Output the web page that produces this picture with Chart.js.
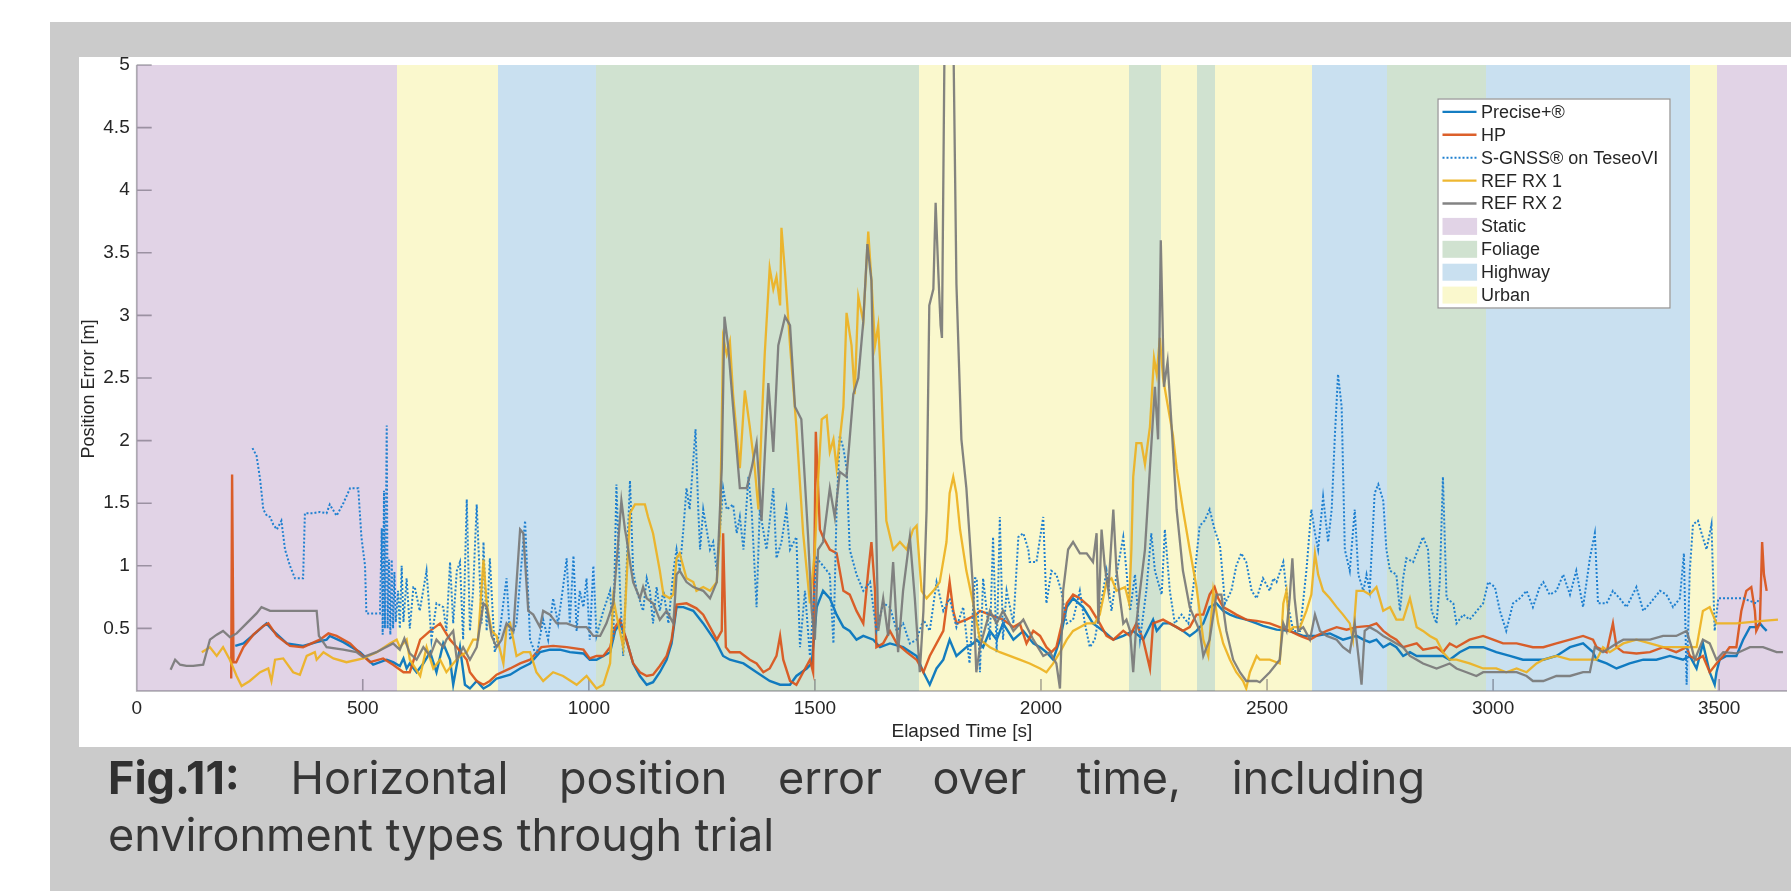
<!DOCTYPE html>
<html>
<head>
<meta charset="utf-8">
<title>Horizontal position error over time</title>
<script src="https://cdn.jsdelivr.net/npm/chart.js@4/dist/chart.umd.min.js"></script>
<style>
  html, body { margin: 0; padding: 0; background: #ffffff; }
  body { width: 1791px; height: 891px; position: relative; overflow: hidden; }
  #frame { position: absolute; left: 50px; top: 22px; width: 1741px; height: 869px; background: #cbcbcb; }
  #panel { position: absolute; left: 79px; top: 57px; width: 1712px; height: 690px; background: #ffffff; }
  #chart { position: absolute; left: 0; top: 0; }
  .caption { position: absolute; left: 108px; font-family: Inter, 'Noto Sans', sans-serif; font-size: 45px;
             line-height: 57px; color: #363636; z-index: 2; }
  #cap1 { top: 749px; width: 1317px; text-align: justify; text-align-last: justify; }
  #cap2 { top: 806px; }
  .caption b { font-weight: 700; color: #303030; }
</style>
</head>
<body>
<div id="frame"></div>
<div id="panel"></div>
<canvas id="chart" width="1791" height="891"></canvas>
<div class="caption" id="cap1"><b>Fig.11:</b> Horizontal position error over time, including</div>
<div class="caption" id="cap2">environment types through trial</div>
<script>
// ---- axes ----
const xTicks = [0, 500, 1000, 1500, 2000, 2500, 3000, 3500];
const yTicks = [0.5, 1, 1.5, 2, 2.5, 3, 3.5, 4, 4.5, 5];
const xMax = 3650;
const yMax = 5;
const yTitle = 'Position Error [m]';

// ---- environment segments (s) ----
const bandStart = [0, 575, 800, 1015, 1730, 2195, 2265, 2345, 2385, 2600, 2765, 2985, 3435, 3495];
const bandEnd   = [575, 800, 1015, 1730, 2195, 2265, 2345, 2385, 2600, 2765, 2985, 3435, 3495, 3650];
const bandType  = ['Static', 'Urban', 'Highway', 'Foliage', 'Urban', 'Foliage', 'Urban', 'Foliage',
                   'Urban', 'Highway', 'Foliage', 'Highway', 'Urban', 'Static'];
const envNames  = ['Static', 'Foliage', 'Highway', 'Urban'];
const envColors = { Static: '#e1d3e6', Foliage: '#d0e2d0', Highway: '#c9e0f0', Urban: '#faf8cd' };

// ---- series: time [s] and horizontal error [m] ----
const seriesNames = ['Precise+®', 'HP', 'S-GNSS® on TeseoVI', 'REF RX 1', 'REF RX 2'];

const precisePlusTime = [218,236,265,287,302,332,368,398,420,427,457,494,523,553,567,582,590,597,604,619,634,649,663,678,693,700,715,726,737,752,767,781,796,826,848,870,892,914,936,958,988,1002,1017,1032,1047,1058,1069,1083,1098,1113,1128,1142,1157,1172,1183,1194,1209,1231,1253,1283,1297,1312,1342,1371,1400,1423,1445,1459,1482,1493,1504,1518,1533,1548,1563,1577,1592,1607,1629,1644,1666,1695,1725,1740,1754,1769,1784,1798,1813,1835,1850,1858,1872,1887,1902,1916,1939,1961,1983,1998,2012,2027,2042,2057,2071,2093,2115,2138,2160,2182,2204,2226,2248,2256,2270,2285,2300,2314,2329,2344,2359,2373,2388,2403,2418,2432,2454,2477,2491,2521,2550,2580,2609,2639,2668,2698,2713,2727,2742,2757,2772,2786,2801,2816,2831,2860,2889,2904,2926,2948,2978,3007,3037,3066,3096,3111,3140,3170,3199,3221,3229,3251,3273,3302,3332,3361,3391,3420,3435,3450,3464,3479,3490,3494,3501,3516,3538,3553,3568,3582,3590,3597,3605];
const precisePlusErr  = [0.36,0.38,0.47,0.54,0.48,0.38,0.36,0.39,0.41,0.44,0.39,0.31,0.21,0.25,0.23,0.20,0.26,0.18,0.22,0.15,0.22,0.31,0.15,0.38,0.25,0.05,0.35,0.05,0.02,0.08,0.02,0.05,0.10,0.13,0.18,0.22,0.31,0.33,0.33,0.31,0.30,0.25,0.25,0.28,0.31,0.48,0.54,0.41,0.22,0.12,0.05,0.07,0.15,0.25,0.38,0.67,0.67,0.64,0.54,0.38,0.28,0.25,0.22,0.15,0.08,0.05,0.05,0.12,0.18,0.22,0.67,0.80,0.74,0.61,0.51,0.48,0.41,0.44,0.41,0.35,0.38,0.35,0.28,0.15,0.05,0.18,0.25,0.41,0.28,0.35,0.38,0.41,0.35,0.48,0.41,0.54,0.41,0.48,0.38,0.35,0.31,0.25,0.41,0.67,0.74,0.67,0.54,0.48,0.41,0.44,0.48,0.41,0.57,0.48,0.54,0.54,0.51,0.48,0.44,0.48,0.54,0.67,0.70,0.64,0.61,0.59,0.57,0.54,0.52,0.49,0.48,0.44,0.44,0.46,0.41,0.44,0.41,0.39,0.41,0.35,0.38,0.35,0.28,0.31,0.28,0.28,0.28,0.25,0.31,0.35,0.35,0.31,0.28,0.25,0.25,0.25,0.28,0.35,0.38,0.31,0.25,0.22,0.18,0.22,0.25,0.25,0.28,0.25,0.28,0.18,0.38,0.15,0.05,0.15,0.25,0.28,0.28,0.41,0.51,0.51,0.54,0.51,0.48];

const hpTime = [209,211,214,220,236,258,280,291,310,339,368,405,424,442,472,494,516,545,567,590,604,627,649,671,693,708,730,737,752,767,781,796,826,848,870,895,921,951,988,1002,1017,1032,1047,1058,1069,1083,1098,1113,1128,1142,1157,1172,1183,1194,1216,1238,1253,1268,1283,1294,1297,1303,1312,1334,1356,1371,1386,1400,1415,1423,1430,1445,1459,1474,1489,1496,1502,1511,1518,1533,1548,1563,1577,1592,1607,1618,1625,1633,1636,1651,1666,1681,1703,1725,1740,1754,1784,1798,1806,1813,1835,1857,1865,1887,1916,1939,1953,1968,1983,1998,2012,2023,2034,2057,2071,2086,2108,2130,2145,2160,2182,2197,2211,2226,2241,2248,2270,2285,2300,2314,2329,2344,2359,2373,2384,2392,2403,2418,2432,2454,2477,2506,2528,2550,2573,2595,2609,2632,2654,2676,2698,2727,2742,2757,2772,2786,2801,2831,2845,2875,2889,2904,2919,2948,2978,3000,3022,3052,3088,3111,3140,3170,3199,3221,3229,3251,3265,3273,3288,3317,3347,3376,3405,3428,3435,3450,3464,3479,3494,3509,3523,3538,3549,3560,3571,3579,3582,3590,3595,3599,3605];
const hpErr  = [0.10,1.73,0.23,0.23,0.35,0.45,0.52,0.54,0.44,0.36,0.35,0.41,0.46,0.44,0.38,0.30,0.23,0.26,0.21,0.15,0.15,0.41,0.48,0.54,0.41,0.35,0.25,0.15,0.08,0.05,0.08,0.13,0.18,0.22,0.25,0.35,0.36,0.35,0.33,0.26,0.28,0.28,0.35,0.51,0.57,0.41,0.22,0.15,0.12,0.13,0.20,0.28,0.41,0.69,0.70,0.66,0.61,0.51,0.41,0.48,1.26,0.35,0.31,0.31,0.25,0.22,0.15,0.18,0.28,0.44,0.25,0.08,0.05,0.15,0.25,0.15,2.07,1.29,1.23,1.13,1.10,0.80,0.77,0.64,0.54,0.96,1.19,0.80,0.35,0.38,0.48,0.38,0.31,0.25,0.15,0.28,0.48,0.87,0.64,0.54,0.57,0.61,0.64,0.61,0.57,0.51,0.54,0.38,0.48,0.44,0.35,0.31,0.35,0.70,0.77,0.74,0.67,0.54,0.44,0.41,0.48,0.44,0.54,0.41,0.18,0.54,0.57,0.54,0.51,0.48,0.51,0.61,0.61,0.77,0.83,0.74,0.67,0.64,0.61,0.57,0.56,0.54,0.51,0.48,0.44,0.41,0.44,0.48,0.51,0.49,0.51,0.52,0.54,0.48,0.44,0.41,0.35,0.38,0.33,0.35,0.31,0.38,0.35,0.41,0.44,0.41,0.38,0.38,0.35,0.35,0.38,0.41,0.44,0.41,0.35,0.31,0.54,0.35,0.31,0.30,0.31,0.35,0.31,0.35,0.28,0.25,0.28,0.15,0.22,0.28,0.35,0.35,0.64,0.80,0.83,0.64,0.48,0.54,1.19,0.93,0.80];

const sgnssTime = [256,265,273,280,288,295,302,310,320,328,339,350,368,372,390,405,420,427,442,457,472,490,497,505,508,538,542,544,547,549,553,555,558,561,564,567,570,573,578,582,586,590,597,604,612,615,626,641,652,663,678,685,693,700,708,715,722,730,737,744,752,763,767,774,781,792,803,818,826,840,859,870,884,899,910,921,932,943,951,958,966,973,980,988,995,1002,1010,1017,1032,1047,1054,1061,1069,1076,1091,1098,1106,1120,1128,1135,1142,1150,1157,1165,1176,1187,1194,1201,1209,1216,1223,1236,1242,1246,1253,1268,1275,1283,1290,1297,1305,1319,1327,1334,1342,1353,1360,1371,1378,1393,1408,1415,1426,1437,1445,1459,1467,1478,1489,1504,1518,1533,1541,1548,1555,1563,1570,1577,1592,1607,1622,1636,1651,1666,1681,1695,1710,1725,1740,1754,1769,1784,1798,1813,1828,1842,1854,1858,1865,1872,1887,1894,1902,1909,1916,1924,1939,1950,1961,1972,1975,1990,2005,2012,2023,2034,2045,2057,2071,2086,2097,2108,2119,2130,2145,2156,2167,2182,2189,2197,2208,2219,2233,2244,2252,2259,2267,2274,2285,2296,2311,2326,2337,2351,2362,2373,2384,2396,2407,2421,2432,2443,2454,2466,2477,2491,2506,2514,2521,2536,2547,2558,2573,2587,2598,2606,2613,2624,2635,2643,2650,2657,2665,2672,2683,2694,2702,2713,2720,2727,2738,2746,2757,2764,2772,2786,2794,2801,2808,2823,2834,2845,2856,2864,2875,2882,2889,2897,2912,2919,2934,2948,2971,2978,2989,3004,3015,3029,3044,3059,3074,3088,3103,3111,3125,3140,3155,3170,3184,3199,3214,3225,3232,3251,3265,3280,3295,3317,3332,3347,3369,3383,3398,3413,3422,3428,3435,3442,3453,3461,3472,3483,3490,3498,3523,3553,3582,3590];
const sgnssErr  = [1.94,1.88,1.69,1.45,1.40,1.39,1.33,1.29,1.36,1.13,1.00,0.90,0.90,1.42,1.42,1.43,1.42,1.49,1.40,1.50,1.62,1.62,1.23,1.00,0.62,0.62,1.30,0.45,1.60,0.50,2.12,0.50,1.05,0.45,1.05,0.50,0.95,0.55,0.80,0.50,1.00,0.55,0.90,0.50,0.83,0.83,0.64,0.96,0.41,0.70,0.67,0.48,1.03,0.54,0.96,1.03,0.41,1.53,0.48,0.80,1.49,0.54,1.19,0.48,1.06,0.31,0.48,0.90,0.41,0.54,1.36,0.41,0.28,0.57,0.41,0.74,0.54,0.83,1.06,0.54,1.08,0.48,0.80,0.67,0.90,0.41,1.00,0.44,0.64,0.80,0.41,1.65,0.80,0.28,1.68,0.96,0.80,0.64,0.90,0.80,0.54,0.83,0.64,0.80,0.54,0.96,1.13,0.96,1.29,1.62,1.45,2.09,1.45,1.13,1.45,1.13,1.19,0.96,1.29,1.62,1.45,1.49,1.26,1.39,1.13,1.71,1.45,0.67,1.45,1.13,1.62,1.06,1.19,1.45,1.13,1.23,0.35,0.80,0.28,1.06,1.00,0.93,0.38,1.45,2.04,1.94,1.78,1.13,0.93,0.80,0.87,0.48,0.70,0.67,0.48,0.54,0.38,0.41,0.57,0.48,0.87,0.64,0.74,0.51,0.67,0.22,0.90,0.90,0.15,0.90,0.41,1.23,0.31,1.39,0.41,0.80,0.54,1.23,1.26,1.13,1.03,1.03,1.39,0.70,0.96,0.93,0.80,0.54,0.57,0.80,0.54,0.35,0.41,0.64,0.96,0.64,0.93,1.23,0.96,0.64,0.93,0.41,0.80,1.26,0.96,0.87,0.77,1.29,0.80,0.54,0.61,0.54,0.83,1.32,1.36,1.45,1.29,1.16,0.70,0.80,1.00,1.10,1.03,0.80,0.74,0.90,0.80,0.90,0.87,1.03,0.67,0.48,0.48,0.96,1.45,1.26,1.13,1.55,1.19,1.45,2.04,2.53,2.27,1.13,0.96,1.45,0.93,0.80,0.93,0.80,1.58,1.65,1.52,1.13,0.96,0.93,0.64,0.90,1.06,1.03,1.13,1.23,1.13,0.64,0.54,0.87,1.71,0.74,0.70,0.54,0.61,0.57,0.67,0.70,0.87,0.83,0.64,0.48,0.70,0.74,0.80,0.67,0.83,0.87,0.77,0.80,0.93,0.77,0.96,0.67,1.06,1.26,0.70,0.70,0.80,0.74,0.67,0.83,0.64,0.70,0.80,0.77,0.67,0.74,1.10,0.05,0.96,1.33,1.36,1.26,1.13,1.33,0.48,0.74,0.74,0.74,0.70,0.74];

const refRx1Time = [144,162,177,191,206,221,232,250,273,291,298,306,324,346,361,376,394,398,413,435,464,501,531,560,575,582,597,604,627,641,656,671,685,700,715,730,744,755,767,774,785,796,811,818,826,840,855,870,884,899,921,943,973,995,1017,1032,1047,1054,1061,1076,1091,1102,1124,1131,1142,1157,1165,1179,1187,1194,1201,1216,1231,1238,1253,1268,1283,1290,1297,1305,1312,1319,1334,1345,1356,1367,1375,1382,1389,1400,1408,1415,1423,1426,1434,1445,1459,1474,1489,1500,1507,1515,1526,1533,1541,1548,1563,1570,1581,1588,1596,1607,1618,1625,1633,1640,1647,1658,1673,1688,1703,1717,1725,1736,1747,1762,1776,1791,1798,1806,1813,1821,1835,1850,1865,1887,1909,1931,1953,1975,1998,2012,2027,2042,2057,2071,2086,2101,2119,2130,2145,2156,2167,2186,2195,2200,2204,2211,2222,2230,2241,2250,2256,2263,2270,2278,2292,2300,2314,2329,2344,2359,2370,2381,2392,2403,2418,2432,2447,2454,2462,2477,2484,2506,2528,2536,2543,2550,2558,2573,2587,2598,2606,2613,2624,2639,2654,2668,2683,2690,2698,2713,2727,2742,2757,2772,2786,2801,2816,2831,2845,2860,2875,2889,2904,2919,2948,2978,3007,3029,3052,3074,3096,3111,3140,3170,3229,3243,3258,3288,3317,3347,3376,3450,3464,3479,3494,3538,3597,3630];
const refRx1Err  = [0.31,0.35,0.28,0.35,0.25,0.12,0.04,0.08,0.15,0.18,0.08,0.25,0.26,0.15,0.13,0.28,0.31,0.25,0.31,0.26,0.23,0.26,0.31,0.38,0.41,0.35,0.41,0.25,0.12,0.35,0.18,0.25,0.15,0.22,0.28,0.31,0.41,0.41,1.05,0.70,0.48,0.44,0.22,0.51,0.54,0.28,0.31,0.31,0.15,0.08,0.15,0.12,0.05,0.12,0.02,0.05,0.22,0.74,0.61,0.35,1.42,1.49,1.49,1.39,1.26,0.96,0.77,0.74,0.77,1.06,1.10,0.90,0.87,0.80,0.83,0.80,0.87,1.26,2.82,2.69,2.79,2.37,1.78,2.40,2.11,1.78,1.45,2.11,2.69,3.38,3.21,3.31,3.08,3.70,3.34,2.76,2.11,1.26,0.70,1.13,1.68,2.17,2.20,1.91,2.01,1.78,2.27,3.02,2.76,2.37,3.15,2.95,3.67,3.28,2.76,2.92,2.43,1.36,1.13,1.19,1.13,1.29,1.32,0.80,0.74,0.80,0.87,1.19,1.58,1.71,1.58,1.29,0.96,0.70,0.41,0.35,0.31,0.28,0.25,0.22,0.18,0.15,0.22,0.31,0.41,0.48,0.51,0.54,0.54,0.61,0.87,0.90,0.80,0.83,0.70,1.13,1.71,1.98,1.98,1.81,2.11,2.66,2.53,2.82,2.50,2.33,2.04,1.78,1.45,1.13,0.83,0.41,0.28,0.80,0.54,0.38,0.25,0.15,0.08,0.02,0.15,0.28,0.25,0.25,0.22,0.70,0.80,0.48,0.51,0.51,0.64,0.77,1.10,0.93,0.80,0.74,0.67,0.61,0.54,0.41,0.80,0.80,0.77,0.83,0.64,0.67,0.57,0.57,0.74,0.51,0.48,0.44,0.41,0.31,0.25,0.25,0.22,0.18,0.18,0.15,0.18,0.15,0.22,0.25,0.28,0.25,0.25,0.35,0.31,0.38,0.41,0.38,0.35,0.35,0.64,0.67,0.54,0.54,0.56,0.57];

const refRx2Time = [75,85,96,110,125,147,162,177,191,206,221,243,265,276,295,398,403,420,457,486,501,530,567,582,592,604,619,634,649,663,678,685,700,708,722,737,752,767,774,785,796,807,818,833,848,855,866,877,892,899,914,929,951,973,995,1010,1025,1039,1054,1065,1072,1080,1083,1091,1098,1113,1120,1128,1142,1157,1172,1187,1194,1201,1216,1231,1253,1268,1283,1294,1300,1308,1319,1334,1349,1360,1371,1382,1397,1408,1419,1434,1445,1456,1470,1485,1493,1500,1507,1518,1533,1544,1555,1570,1585,1596,1607,1616,1625,1633,1640,1651,1662,1673,1684,1695,1710,1721,1732,1740,1747,1753,1762,1767,1773,1778,1781,1787,1795,1806,1813,1824,1835,1850,1857,1865,1887,1902,1916,1939,1961,1983,2005,2020,2034,2042,2049,2060,2071,2086,2101,2115,2123,2127,2134,2141,2149,2160,2167,2182,2189,2197,2204,2211,2219,2230,2241,2252,2259,2265,2272,2280,2289,2300,2314,2329,2344,2351,2359,2373,2388,2399,2410,2425,2440,2454,2477,2484,2506,2528,2536,2543,2550,2556,2561,2569,2580,2595,2606,2617,2632,2654,2668,2683,2694,2702,2709,2716,2727,2742,2757,2772,2786,2801,2816,2831,2845,2875,2904,2919,2941,2963,2978,3022,3052,3074,3088,3111,3140,3170,3199,3214,3225,3243,3273,3288,3347,3376,3405,3428,3439,3446,3464,3479,3494,3509,3538,3568,3597,3627,3641];
const refRx2Err  = [0.17,0.25,0.21,0.20,0.20,0.21,0.41,0.45,0.48,0.43,0.46,0.54,0.62,0.67,0.64,0.64,0.44,0.35,0.33,0.31,0.27,0.31,0.38,0.33,0.42,0.30,0.25,0.35,0.28,0.41,0.35,0.41,0.48,0.25,0.35,0.25,0.35,0.70,0.67,0.44,0.35,0.41,0.54,0.48,1.29,1.26,0.64,0.61,0.51,0.64,0.61,0.54,0.54,0.51,0.51,0.44,0.44,0.54,0.70,1.19,1.52,1.29,1.23,1.03,0.87,0.74,0.83,0.74,0.70,0.57,0.64,0.54,0.93,0.96,0.87,0.83,0.80,0.74,0.87,1.78,2.99,2.76,2.27,1.62,1.62,1.78,1.98,1.36,2.46,1.91,2.76,2.99,2.92,2.27,2.17,1.23,0.64,0.41,1.13,1.19,1.62,1.39,1.75,1.71,2.37,2.50,2.95,3.57,3.28,1.78,0.48,0.74,0.44,1.03,0.31,0.80,1.23,0.74,0.15,0.64,1.45,3.08,3.21,3.90,3.34,2.92,2.82,5.30,5.60,5.30,3.25,2.01,1.62,0.80,0.15,0.35,0.64,0.54,0.64,0.48,0.57,0.41,0.28,0.31,0.22,0.02,0.80,1.13,1.19,1.10,1.10,1.03,1.26,0.54,1.29,1.00,0.80,1.45,0.96,0.54,0.57,0.48,0.15,0.54,0.80,1.13,1.78,2.43,2.01,3.60,2.43,2.63,2.11,1.45,0.96,0.67,0.54,0.48,0.28,0.41,0.77,0.77,0.48,0.25,0.15,0.08,0.08,0.07,0.15,0.25,0.54,0.48,0.74,1.06,0.74,0.48,0.51,0.41,0.61,0.48,0.44,0.41,0.35,0.31,0.54,0.28,0.05,0.48,0.51,0.48,0.44,0.41,0.38,0.35,0.28,0.25,0.22,0.18,0.22,0.18,0.15,0.12,0.15,0.15,0.15,0.12,0.08,0.08,0.12,0.12,0.15,0.15,0.35,0.31,0.38,0.41,0.41,0.44,0.44,0.48,0.35,0.25,0.41,0.38,0.25,0.31,0.30,0.35,0.35,0.31,0.31];

// ---- styling ----
const seriesColors = ['rgba(0,114,189,0.92)', 'rgba(217,83,25,0.92)', '#1f80d0', 'rgba(237,177,32,0.92)', 'rgba(120,120,120,0.92)'];
const seriesDash   = [[], [], [2, 2], [], []];
const seriesWidth  = [2.4, 2.4, 2, 2.3, 2.3];
const textColor = '#262626';
const fontFamily = "'Liberation Sans', Arial, Helvetica, sans-serif";

function toPoints(t, v) { return t.map((x, i) => ({ x: x, y: v[i] })); }
const seriesData = [
  toPoints(precisePlusTime, precisePlusErr),
  toPoints(hpTime, hpErr),
  toPoints(sgnssTime, sgnssErr),
  toPoints(refRx1Time, refRx1Err),
  toPoints(refRx2Time, refRx2Err)
];

// background environment bands, axis lines and inward tick marks
const envBands = {
  id: 'envBands',
  beforeDatasetsDraw(chart) {
    const { ctx, chartArea: a, scales: { x, y } } = chart;
    ctx.save();
    ctx.beginPath();
    ctx.rect(a.left, a.top, a.right - a.left, a.bottom - a.top);
    ctx.clip();
    bandStart.forEach((s, i) => {
      const x0 = Math.round(x.getPixelForValue(s));
      const x1 = Math.round(x.getPixelForValue(bandEnd[i]));
      ctx.fillStyle = envColors[bandType[i]];
      ctx.fillRect(x0, a.top, x1 - x0, a.bottom - a.top);
    });
    ctx.restore();

    ctx.save();
    ctx.strokeStyle = 'rgba(60,55,70,0.42)';
    ctx.lineWidth = 1.6;
    ctx.beginPath();
    ctx.moveTo(a.left, a.top);
    ctx.lineTo(a.left, a.bottom);
    ctx.lineTo(a.right, a.bottom);
    yTicks.forEach(v => {
      const py = y.getPixelForValue(v);
      ctx.moveTo(a.left, py);
      ctx.lineTo(a.left + 15, py);
    });
    xTicks.forEach(v => {
      const px = x.getPixelForValue(v);
      ctx.moveTo(px, a.bottom);
      ctx.lineTo(px, a.bottom - 12);
    });
    ctx.stroke();
    ctx.restore();
  }
};

// rotated y-axis title, set slightly below the middle of the axis
const yAxisTitle = {
  id: 'yAxisTitle',
  afterDraw(chart) {
    const { ctx, chartArea: a } = chart;
    ctx.save();
    ctx.translate(89, (a.top + a.bottom) / 2 + 11);
    ctx.rotate(-Math.PI / 2);
    ctx.font = '18px ' + fontFamily;
    ctx.fillStyle = textColor;
    ctx.textAlign = 'center';
    ctx.textBaseline = 'middle';
    ctx.fillText(yTitle, 0, 0);
    ctx.restore();
  }
};

// legend box in the upper right of the plot
const envLegend = {
  id: 'envLegend',
  afterDatasetsDraw(chart) {
    const { ctx, chartArea: a } = chart;
    const boxW = 233, boxH = 210;
    const bx = a.right - 116.5 - boxW, by = a.top + 33.5;
    const rowH = 22.9, firstRow = by + 13.4;
    ctx.save();
    ctx.fillStyle = '#ffffff';
    ctx.fillRect(bx, by, boxW, boxH);
    ctx.strokeStyle = '#8e8e8e';
    ctx.lineWidth = 1.2;
    ctx.strokeRect(bx + 0.5, by + 0.5, boxW - 1, boxH - 1);
    ctx.font = '18px ' + fontFamily;
    ctx.textBaseline = 'middle';
    ctx.textAlign = 'left';
    const sx0 = bx + 5, sx1 = bx + 39, tx = bx + 43.5;
    seriesNames.forEach((name, i) => {
      const cy = firstRow + i * rowH;
      ctx.strokeStyle = seriesColors[i];
      ctx.lineWidth = seriesWidth[i];
      ctx.setLineDash(seriesDash[i]);
      ctx.beginPath();
      ctx.moveTo(sx0, cy);
      ctx.lineTo(sx1, cy);
      ctx.stroke();
      ctx.setLineDash([]);
      ctx.fillStyle = textColor;
      ctx.fillText(name, tx, cy + 1);
    });
    envNames.forEach((name, j) => {
      const cy = firstRow + (seriesNames.length + j) * rowH;
      ctx.fillStyle = envColors[name];
      ctx.fillRect(sx0, cy - 8.5, sx1 - sx0 + 0.6, 17);
      ctx.fillStyle = textColor;
      ctx.fillText(name, tx, cy + 1);
    });
    ctx.restore();
  }
};

Chart.defaults.font.family = fontFamily;
Chart.defaults.color = textColor;

new Chart(document.getElementById('chart'), {
  type: 'line',
  data: {
    datasets: seriesNames.map((name, i) => ({
      label: name,
      data: seriesData[i],
      borderColor: seriesColors[i],
      borderWidth: seriesWidth[i],
      borderDash: seriesDash[i],
      pointRadius: 0,
      tension: 0,
      fill: false,
      order: seriesNames.length - i
    }))
  },
  options: {
    responsive: false,
    animation: false,
    devicePixelRatio: 1,
    events: [],
    layout: { padding: { top: 65, right: 4, bottom: 144, left: 0 } },
    plugins: { legend: { display: false }, tooltip: { enabled: false } },
    scales: {
      x: {
        type: 'linear',
        min: 0,
        max: xMax,
        afterFit(scale) { scale.height = 56; },
        afterBuildTicks(scale) { scale.ticks = xTicks.map(v => ({ value: v })); },
        grid: { display: false, drawTicks: false },
        border: { display: false },
        ticks: { autoSkip: false, maxRotation: 0, padding: 6, color: textColor, font: { size: 19 },
                 callback: v => String(v) },
        title: { display: true, text: 'Elapsed Time [s]', color: textColor, font: { size: 19 },
                 padding: { top: 0, bottom: 4 } }
      },
      y: {
        type: 'linear',
        min: 0,
        max: yMax,
        afterFit(scale) { scale.width = 136.7; },
        afterBuildTicks(scale) { scale.ticks = yTicks.map(v => ({ value: v })); },
        grid: { display: false, drawTicks: false },
        border: { display: false },
        ticks: { padding: 7, color: textColor, font: { size: 19 }, callback: v => String(v) },
        title: { display: false }
      }
    }
  },
  plugins: [envBands, envLegend, yAxisTitle]
});
</script>
</body>
</html>
